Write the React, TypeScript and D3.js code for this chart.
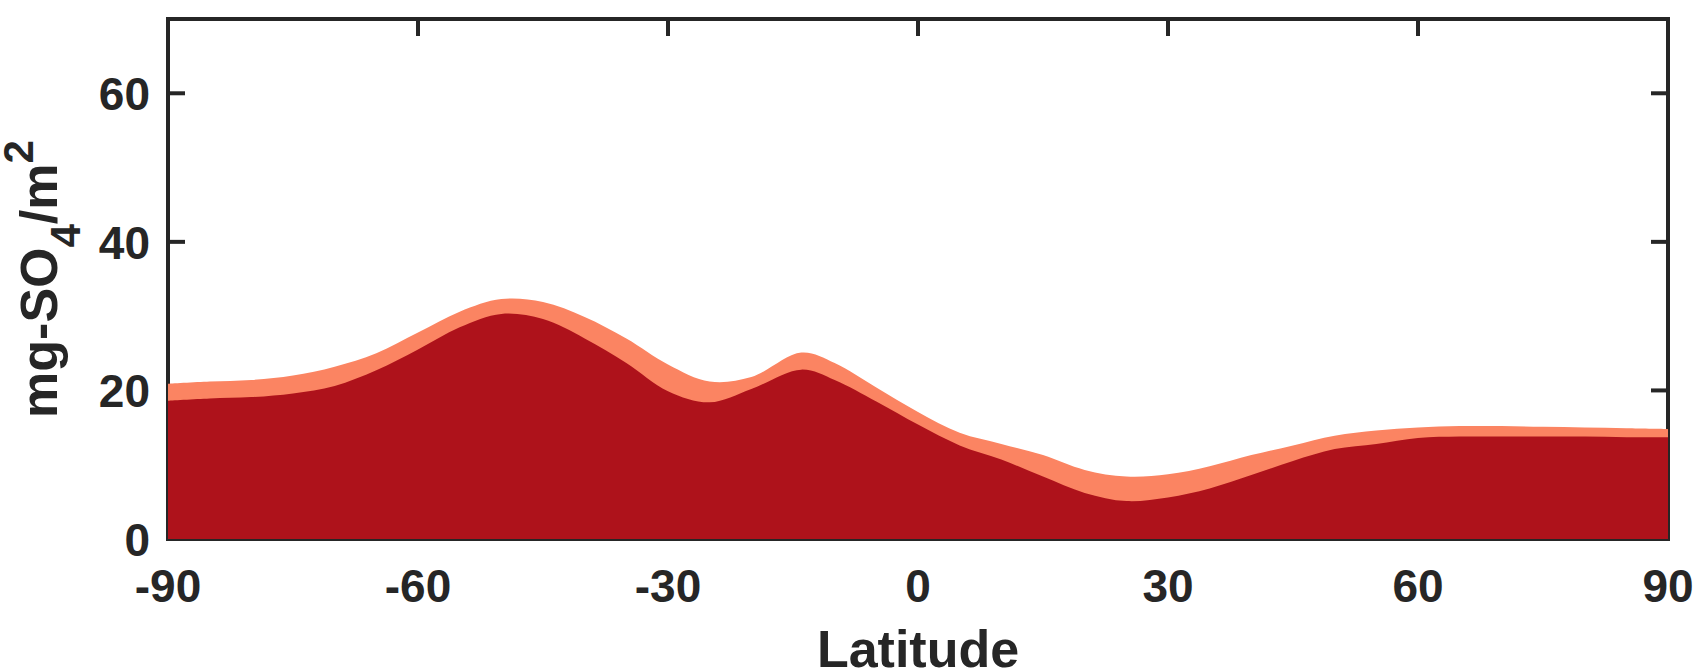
import { area, curveCatmullRom, scaleLinear } from 'd3'

// latitude grid (deg) and column totals
const latitudes = [
  -90, -85, -80, -75, -70, -65, -60, -55, -50, -45, -40, -35, -30, -25, -20, -14, -10, -5, 0, 5, 10,
  15, 20, 25, 30, 35, 40, 45, 50, 55, 60, 65, 70, 75, 80, 85, 90,
]
// upper (total) band, light
const totalValues = [
  20.9, 21.2, 21.4, 22.0, 23.2, 25.0, 27.8, 30.6, 32.3, 31.9, 29.9, 27.0, 23.5, 21.2, 21.8, 25.1,
  23.7, 20.4, 17.1, 14.3, 12.8, 11.3, 9.3, 8.4, 8.7, 9.8, 11.3, 12.6, 13.9, 14.6, 15.0, 15.2, 15.2,
  15.1, 15.0, 14.9, 14.8,
]
// lower band, dark
const lowerValues = [
  18.6, 18.9, 19.1, 19.6, 20.6, 22.7, 25.5, 28.5, 30.3, 29.6, 27.0, 23.7, 19.9, 18.4, 20.2, 22.8,
  21.4, 18.5, 15.4, 12.6, 10.7, 8.4, 6.2, 5.1, 5.6, 6.8, 8.6, 10.5, 12.1, 12.8, 13.6, 13.8, 13.8,
  13.8, 13.8, 13.7, 13.7,
]
const xTicks = [-90, -60, -30, 0, 30, 60, 90]
const yTicks = [0, 20, 40, 60]

const width = 1700
const height = 670
const plot = { left: 168, right: 1668, top: 19, bottom: 539 }
const ink = '#262626'
const font = '"Liberation Sans", Arial, Helvetica, sans-serif'

const App = () => {
  const x = scaleLinear().domain([-90, 90]).range([plot.left, plot.right])
  const y = scaleLinear().domain([0, 70]).range([plot.bottom, plot.top])

  const rows = latitudes.map((lat, i) => ({ lat, total: totalValues[i], lower: lowerValues[i] }))

  const totalArea = area<(typeof rows)[number]>()
    .x((d) => x(d.lat))
    .y0(y(0))
    .y1((d) => y(d.total))
    .curve(curveCatmullRom.alpha(0.5))

  const lowerArea = area<(typeof rows)[number]>()
    .x((d) => x(d.lat))
    .y0(y(0))
    .y1((d) => y(d.lower))
    .curve(curveCatmullRom.alpha(0.5))

  const tickLen = 17

  return (
    <svg
      width={width}
      height={height}
      style={{ position: 'absolute', left: 0, top: 0, background: 'white' }}
      fontFamily={font}
      fontWeight="bold"
    >
      {/* box */}
      <rect
        x={plot.left}
        y={plot.top}
        width={plot.right - plot.left}
        height={plot.bottom - plot.top}
        fill="none"
        stroke={ink}
        strokeWidth={4}
      />
      {xTicks.map((t) => (
        <g key={`xt${t}`}>
          <line x1={x(t)} x2={x(t)} y1={plot.bottom} y2={plot.bottom - tickLen} stroke={ink} strokeWidth={4} />
          <line x1={x(t)} x2={x(t)} y1={plot.top} y2={plot.top + tickLen} stroke={ink} strokeWidth={4} />
          <text x={x(t)} y={602} textAnchor="middle" fontSize={46} fill={ink}>
            {t}
          </text>
        </g>
      ))}
      {yTicks.map((t) => (
        <g key={`yt${t}`}>
          <line x1={plot.left} x2={plot.left + tickLen} y1={y(t)} y2={y(t)} stroke={ink} strokeWidth={4} />
          <line x1={plot.right} x2={plot.right - tickLen} y1={y(t)} y2={y(t)} stroke={ink} strokeWidth={4} />
          <text x={150} y={y(t) + 17} textAnchor="end" fontSize={46} fill={ink}>
            {t}
          </text>
        </g>
      ))}

      <path d={totalArea(rows) ?? ''} fill="#fb8462" />
      <path d={lowerArea(rows) ?? ''} fill="#ae121b" />

      <text x={918} y={667} textAnchor="middle" fontSize={52} fill={ink}>
        Latitude
      </text>

      <text transform="translate(57, 279) rotate(-90)" textAnchor="middle" fontSize={52} fill={ink}>
        mg-SO
        <tspan fontSize={42} dy={23}>
          4
        </tspan>
        <tspan dy={-23}>/m</tspan>
        <tspan fontSize={42} dy={-24}>
          2
        </tspan>
      </text>
    </svg>
  )
}

export default App
